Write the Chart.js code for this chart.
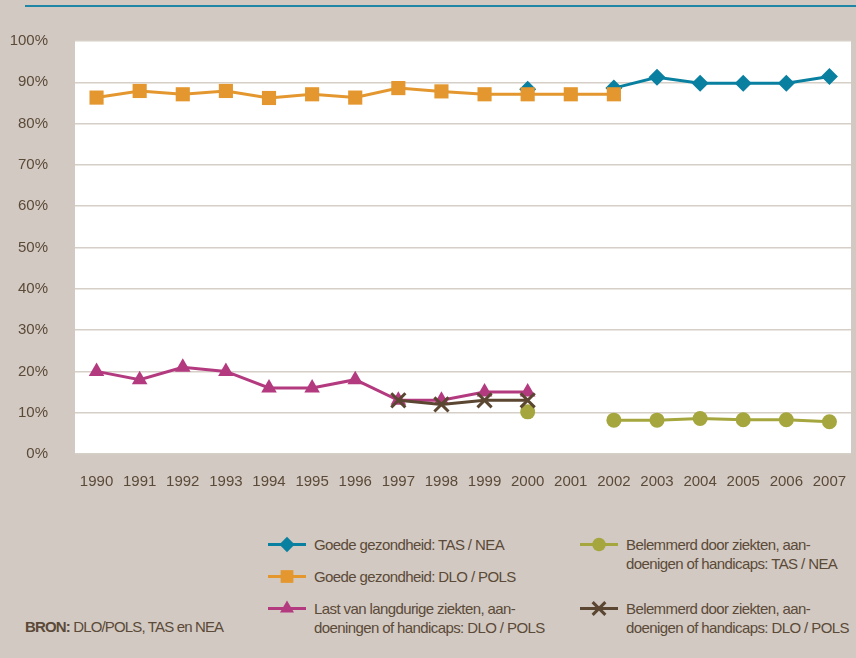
<!DOCTYPE html>
<html lang="nl">
<head>
<meta charset="UTF-8">
<title>Gezondheid werkenden 1990-2007</title>
<script src="https://cdn.jsdelivr.net/npm/chart.js@4.4.1/dist/chart.umd.min.js"></script>
<style>
  html, body { margin: 0; padding: 0; }
  body { width: 856px; height: 658px; background: #d1c9c2; position: relative; overflow: hidden;
         font-family: "Liberation Sans", Arial, sans-serif; color: #5c4a38; }
  .topline { position: absolute; left: 25px; right: 0; top: 5px; height: 2px; background: #1f86a5; }
  #wrap { position: absolute; left: 0; top: 0; width: 856px; height: 500px; }
  .legend-item { position: absolute; display: flex; align-items: flex-start; font-size: 15px; line-height: 19px;
                 white-space: nowrap; letter-spacing: -0.6px; }
  .legend-item canvas { margin-right: 8px; flex: none; }
  .bron { position: absolute; left: 25px; top: 618px; font-size: 15px; letter-spacing: -0.85px; }
</style>
</head>
<body>
<div class="topline"></div>
<div id="wrap"><canvas id="chart"></canvas></div>
<div id="legend"></div>
<div class="bron"><b>BRON:</b> DLO/POLS, TAS en NEA</div>
<script>
// jaren
const jaren = ['1990','1991','1992','1993','1994','1995','1996','1997','1998','1999',
               '2000','2001','2002','2003','2004','2005','2006','2007'];
const yTicks = [0, 10, 20, 30, 40, 50, 60, 70, 80, 90, 100];

// Goede gezondheid: TAS / NEA
const goedTas = [null, null, null, null, null, null, null, null, null, null,
                 88.3, null, 88.6, 91.2, 89.8, 89.8, 89.8, 91.4];
// Goede gezondheid: DLO / POLS
const goedDlo = [86.3, 87.9, 87.1, 87.9, 86.2, 87.1, 86.3, 88.6, 87.8, 87.1,
                 87.1, 87.1, 87.1, null, null, null, null, null];
// Last van langdurige ziekten ...: DLO / POLS
const lastDlo = [20, 18, 21, 20, 16, 16, 18, 13, 13, 15,
                 15, null, null, null, null, null, null, null];
// Belemmerd door ziekten ...: TAS / NEA
const belemTas = [null, null, null, null, null, null, null, null, null, null,
                  10.2, null, 8.2, 8.2, 8.6, 8.3, 8.3, 7.8];
// Belemmerd door ziekten ...: DLO / POLS
const belemDlo = [null, null, null, null, null, null, null, 13, 12, 13,
                  13, null, null, null, null, null, null, null];

const series = [
  { key: 'goedDlo', data: goedDlo, color: '#e4972f', style: 'rect', r: 10,
    label: ['Goede gezondheid: DLO / POLS'] },
  { key: 'belemDlo', data: belemDlo, color: '#5b4631', style: 'crossRot', r: 10,
    label: ['Belemmerd door ziekten, aan-', 'doenigen of handicaps: DLO / POLS'] },
  { key: 'goedTas', data: goedTas, color: '#0a80a1', style: 'rectRot', r: 8.5,
    label: ['Goede gezondheid: TAS / NEA'] },
  { key: 'lastDlo', data: lastDlo, color: '#b43a80', style: 'triangle', r: 9,
    label: ['Last van langdurige ziekten, aan-', 'doeningen of handicaps: DLO / POLS'] },
  { key: 'belemTas', data: belemTas, color: '#a5a63d', style: 'circle', r: 7.5,
    label: ['Belemmerd door ziekten, aan-', 'doenigen of handicaps: TAS / NEA'] }
];

// wit plotvlak
const plotBg = {
  id: 'plotBg',
  beforeDraw(chart) {
    const a = chart.chartArea, ctx = chart.ctx;
    ctx.save();
    ctx.fillStyle = '#ffffff';
    ctx.fillRect(a.left, a.top, a.right - a.left, a.bottom - a.top);
    ctx.restore();
  }
};

const chart = new Chart(document.getElementById('chart'), {
  type: 'line',
  data: {
    labels: jaren,
    datasets: series.map(s => ({
      label: s.label.join(' '),
      data: s.data,
      borderColor: s.color,
      backgroundColor: s.color,
      borderWidth: 3,
      pointStyle: s.style,
      pointRadius: s.r,
      pointBorderWidth: s.style === 'crossRot' ? 3 : 0,
      pointBorderColor: s.color,
      pointBackgroundColor: s.color,
      tension: 0,
      spanGaps: false
    }))
  },
  options: {
    responsive: true,
    maintainAspectRatio: false,
    animation: false,
    layout: { autoPadding: false, padding: { top: 41, right: 5, left: 0, bottom: 0 } },
    plugins: { legend: { display: false }, tooltip: { enabled: false } },
    scales: {
      x: {
        offset: true,
        grid: { display: false, drawTicks: false },
        border: { display: false },
        ticks: { color: '#5c4a38', font: { family: 'Liberation Sans', size: 15 }, padding: 19,
                 maxRotation: 0, autoSkip: false },
        afterFit(scale) { scale.height = 46; scale.paddingLeft = 0; scale.paddingRight = 0; }
      },
      y: {
        min: 0, max: 100,
        afterBuildTicks(scale) { scale.ticks = yTicks.map(v => ({ value: v })); },
        grid: { color: '#d6cfc8', lineWidth: 1.5, drawTicks: false },
        border: { display: false },
        ticks: { color: '#5c4a38', font: { family: 'Liberation Sans', size: 15 }, padding: 27,
                 callback: v => v + '%' },
        afterFit(scale) { scale.width = 75; }
      }
    }
  },
  plugins: [plotBg]
});

// legenda
const legendPos = {
  goedTas:  { x: 268, y: 535 },
  goedDlo:  { x: 268, y: 567 },
  lastDlo:  { x: 268, y: 599 },
  belemTas: { x: 580, y: 535 },
  belemDlo: { x: 580, y: 599 }
};
const legend = document.getElementById('legend');
series.forEach(s => {
  const p = legendPos[s.key];
  const item = document.createElement('div');
  item.className = 'legend-item';
  item.style.left = p.x + 'px';
  item.style.top = p.y + 'px';
  const c = document.createElement('canvas');
  c.width = 38; c.height = 19;
  const ctx = c.getContext('2d');
  ctx.strokeStyle = s.color; ctx.lineWidth = 3;
  ctx.beginPath(); ctx.moveTo(0, 9.5); ctx.lineTo(38, 9.5); ctx.stroke();
  ctx.fillStyle = s.color;
  Chart.helpers.drawPoint(ctx, { pointStyle: s.style, radius: s.r * 0.9, rotation: 0,
    borderWidth: s.style === 'crossRot' ? 3 : 0 }, 19, 9.5);
  item.appendChild(c);
  const t = document.createElement('div');
  t.innerHTML = s.label.join('<br>');
  item.appendChild(t);
  legend.appendChild(item);
});
</script>
</body>
</html>
